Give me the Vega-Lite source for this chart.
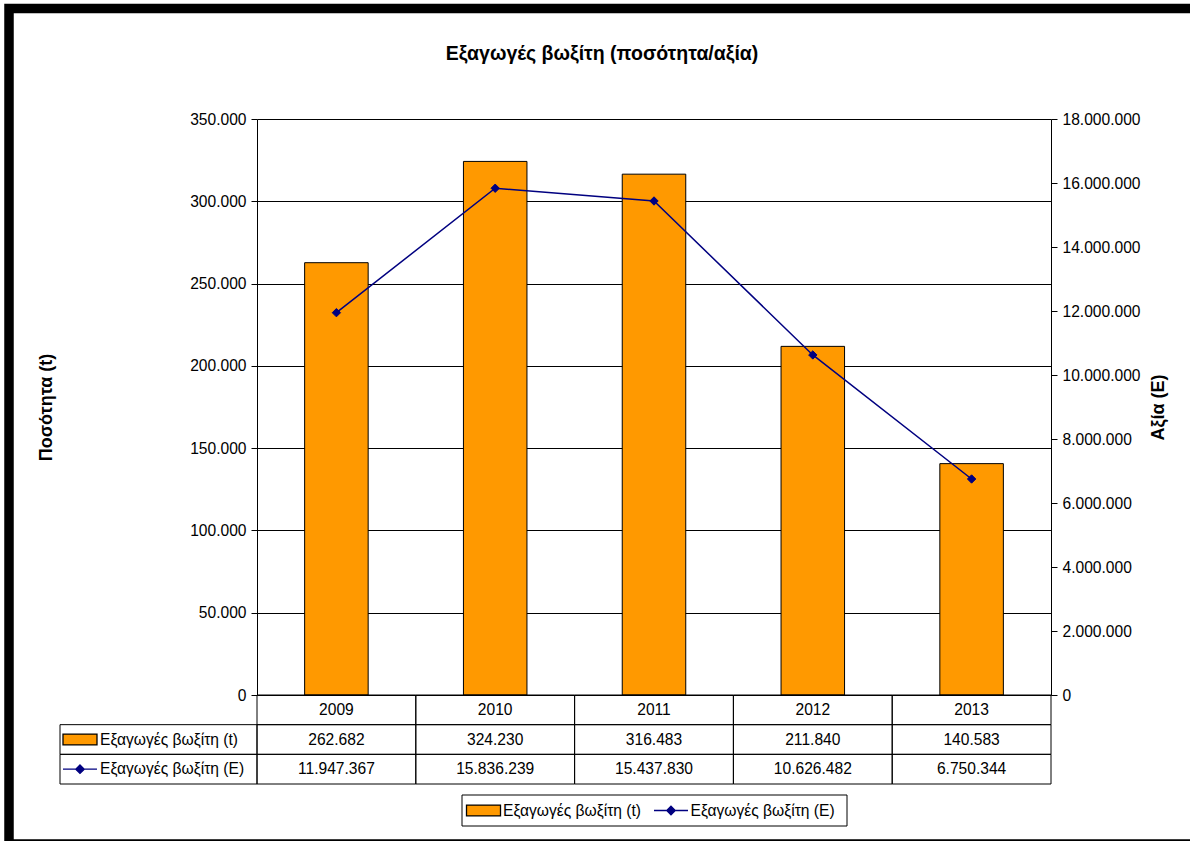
{
  "$schema": "https://vega.github.io/schema/vega-lite/v6.json",
  "width": 794,
  "height": 576,
  "autosize": {"type": "none"},
  "padding": {"left": 257, "top": 119, "right": 139, "bottom": 146},
  "background": "white",
  "title": {
    "text": "Εξαγωγές βωξίτη (ποσότητα/αξία)",
    "font": "Liberation Sans",
    "fontSize": 19.5,
    "fontWeight": "bold",
    "color": "#000",
    "anchor": "middle",
    "frame": "bounds",
    "offset": -61
  },
  "config": {
    "font": "Liberation Sans",
    "locale": {"number": {"decimal": ",", "thousands": ".", "grouping": [3], "currency": ["", " €"]}},
    "view": {"stroke": null},
    "axis": {
      "labelFont": "Liberation Sans",
      "labelFontSize": 15.6,
      "labelColor": "#000",
      "titleFont": "Liberation Sans",
      "titleFontSize": 18,
      "titleFontWeight": "bold",
      "titleColor": "#000",
      "domainColor": "#000",
      "tickColor": "#000",
      "gridColor": "#000",
      "gridOpacity": 1,
      "tickSize": 6,
      "labelPadding": 5
    },
    "text": {"font": "Liberation Sans", "fontSize": 15.6, "color": "#000"}
  },
  "datasets": {
    "exports": [
      {"year": "2009", "qty": 262682, "val": 11947367},
      {"year": "2010", "qty": 324230, "val": 15836239},
      {"year": "2011", "qty": 316483, "val": 15437830},
      {"year": "2012", "qty": 211840, "val": 10626482},
      {"year": "2013", "qty": 140583, "val": 6750344}
    ],
    "labels": [
      {"row": "qty", "label": "Εξαγωγές βωξίτη (t)"},
      {"row": "val", "label": "Εξαγωγές βωξίτη (Ε)"}
    ],
    "single": [{}]
  },
  "layer": [
    {
      "data": {"name": "single"},
      "mark": {"type": "rect", "filled": false, "stroke": "#000", "strokeWidth": 9.5},
      "encoding": {
        "x": {"datum": "frame", "type": "nominal", "axis": null, "scale": {"type": "band", "domain": ["frame"], "range": [-248, 938], "paddingInner": 0, "paddingOuter": 0}},
        "y": {"datum": "frame", "type": "nominal", "axis": null, "scale": {"type": "band", "domain": ["frame"], "range": [-110.5, 725], "paddingInner": 0, "paddingOuter": 0}}
      }
    },
    {
      "data": {"name": "exports"},
      "mark": {"type": "bar", "fill": "#FF9900", "stroke": "#000", "strokeWidth": 1},
      "encoding": {
        "x": {"field": "year", "type": "nominal", "axis": null, "scale": {"type": "band", "domain": ["2009", "2010", "2011", "2012", "2013"], "paddingInner": 0.6, "paddingOuter": 0.3}},
        "y": {
          "field": "qty", "type": "quantitative",
          "scale": {"domain": [0, 350000], "nice": false, "zero": true},
          "axis": {
            "orient": "left",
            "values": [0, 50000, 100000, 150000, 200000, 250000, 300000, 350000],
            "format": ",.0f",
            "title": "Ποσότητα (t)",
            "titlePadding": 134,
            "grid": true
          }
        }
      }
    },
    {
      "data": {"name": "exports"},
      "mark": {"type": "line", "stroke": "#000080", "strokeWidth": 1.5},
      "encoding": {
        "x": {"field": "year", "type": "nominal", "axis": null, "scale": {"type": "point", "domain": ["2009", "2010", "2011", "2012", "2013"], "padding": 0.5}},
        "y": {
          "field": "val", "type": "quantitative",
          "scale": {"domain": [0, 18000000], "nice": false, "zero": true},
          "axis": {
            "orient": "right",
            "values": [0, 2000000, 4000000, 6000000, 8000000, 10000000, 12000000, 14000000, 16000000, 18000000],
            "format": ",.0f",
            "title": "Αξία (Ε)",
            "titleAngle": 270,
            "titlePadding": 27,
            "grid": false
          }
        }
      }
    },
    {
      "data": {"name": "exports"},
      "mark": {"type": "point", "shape": "diamond", "filled": true, "fill": "#000080", "stroke": "#000080", "strokeWidth": 1, "size": 70, "opacity": 1},
      "encoding": {
        "x": {"field": "year", "type": "nominal", "axis": null, "scale": {"type": "point", "domain": ["2009", "2010", "2011", "2012", "2013"], "padding": 0.5}},
        "y": {"field": "val", "type": "quantitative", "axis": null, "scale": {"domain": [0, 18000000], "nice": false, "zero": true}}
      }
    },
    {
      "data": {"name": "exports"},
      "transform": [{"fold": ["year", "qty", "val"], "as": ["row", "v"]}],
      "mark": {"type": "rect", "filled": false, "stroke": "#000", "strokeWidth": 1},
      "encoding": {
        "x": {"field": "year", "type": "nominal", "axis": null, "scale": {"type": "band", "domain": ["2009", "2010", "2011", "2012", "2013"], "paddingInner": 0, "paddingOuter": 0}},
        "y": {"field": "row", "type": "nominal", "axis": null, "scale": {"type": "band", "domain": ["year", "qty", "val"], "range": [576, 665], "paddingInner": 0, "paddingOuter": 0}}
      }
    },
    {
      "data": {"name": "exports"},
      "mark": {"type": "text", "align": "center", "baseline": "middle"},
      "encoding": {
        "x": {"field": "year", "type": "nominal", "axis": null, "scale": {"type": "band", "domain": ["2009", "2010", "2011", "2012", "2013"], "paddingInner": 0, "paddingOuter": 0}},
        "y": {"datum": "year", "type": "nominal", "axis": null, "scale": {"type": "band", "domain": ["year", "qty", "val"], "range": [576, 665], "paddingInner": 0, "paddingOuter": 0}},
        "text": {"field": "year", "type": "nominal"}
      }
    },
    {
      "data": {"name": "exports"},
      "transform": [{"fold": ["qty", "val"], "as": ["row", "v"]}],
      "mark": {"type": "text", "align": "center", "baseline": "middle"},
      "encoding": {
        "x": {"field": "year", "type": "nominal", "axis": null, "scale": {"type": "band", "domain": ["2009", "2010", "2011", "2012", "2013"], "paddingInner": 0, "paddingOuter": 0}},
        "y": {"field": "row", "type": "nominal", "axis": null, "scale": {"type": "band", "domain": ["year", "qty", "val"], "range": [576, 665], "paddingInner": 0, "paddingOuter": 0}},
        "text": {"field": "v", "type": "quantitative", "format": ",.0f"}
      }
    },
    {
      "data": {"name": "labels"},
      "mark": {"type": "rect", "filled": false, "stroke": "#000", "strokeWidth": 1},
      "encoding": {
        "x": {"datum": "label", "type": "nominal", "axis": null, "scale": {"type": "band", "domain": ["label"], "range": [-197, 0], "paddingInner": 0, "paddingOuter": 0}},
        "y": {"field": "row", "type": "nominal", "axis": null, "scale": {"type": "band", "domain": ["year", "qty", "val"], "range": [576, 665], "paddingInner": 0, "paddingOuter": 0}}
      }
    },
    {
      "data": {"name": "labels"},
      "mark": {"type": "text", "align": "left", "baseline": "middle"},
      "encoding": {
        "x": {"datum": "label", "type": "nominal", "axis": null, "bandPosition": 0.203, "scale": {"type": "band", "domain": ["label"], "range": [-197, 0], "paddingInner": 0, "paddingOuter": 0}},
        "y": {"field": "row", "type": "nominal", "axis": null, "scale": {"type": "band", "domain": ["year", "qty", "val"], "range": [576, 665], "paddingInner": 0, "paddingOuter": 0}},
        "text": {"field": "label", "type": "nominal"}
      }
    },
    {
      "data": {"name": "labels"},
      "mark": {"type": "point", "filled": true, "opacity": 1, "strokeWidth": 1.3, "size": 1156},
      "encoding": {
        "x": {"datum": "label", "type": "nominal", "axis": null, "bandPosition": 0.1015, "scale": {"type": "band", "domain": ["label"], "range": [-197, 0], "paddingInner": 0, "paddingOuter": 0}},
        "y": {"field": "row", "type": "nominal", "axis": null, "scale": {"type": "band", "domain": ["year", "qty", "val"], "range": [576, 665], "paddingInner": 0, "paddingOuter": 0}},
        "shape": {"field": "row", "type": "nominal", "legend": null, "scale": {"domain": ["qty", "val"], "range": ["M-1,-0.32H1V0.32H-1Z", "M-1,0H1M0,-0.25L0.25,0L0,0.25L-0.25,0Z"]}},
        "fill": {"field": "row", "type": "nominal", "legend": null, "scale": {"domain": ["qty", "val"], "range": ["#FF9900", "#000080"]}},
        "stroke": {"field": "row", "type": "nominal", "legend": null, "scale": {"domain": ["qty", "val"], "range": ["#000000", "#000080"]}}
      }
    },
    {
      "data": {"name": "single"},
      "mark": {"type": "rect", "fill": "white", "stroke": "#000", "strokeWidth": 1},
      "encoding": {
        "x": {"datum": "lg", "type": "nominal", "axis": null, "scale": {"type": "band", "domain": ["lg"], "range": [205, 590], "paddingInner": 0, "paddingOuter": 0}},
        "y": {"datum": "lg", "type": "nominal", "axis": null, "scale": {"type": "band", "domain": ["lg"], "range": [676, 707], "paddingInner": 0, "paddingOuter": 0}}
      }
    },
    {
      "data": {"name": "labels"},
      "mark": {"type": "point", "filled": true, "opacity": 1, "strokeWidth": 1.3, "size": 1156},
      "encoding": {
        "x": {"field": "row", "type": "nominal", "axis": null, "bandPosition": 0.088, "scale": {"type": "band", "domain": ["qty", "val"], "range": [205, 590], "paddingInner": 0, "paddingOuter": 0.0267}},
        "y": {"datum": "lg", "type": "nominal", "axis": null, "scale": {"type": "band", "domain": ["lg"], "range": [676, 707], "paddingInner": 0, "paddingOuter": 0}},
        "shape": {"field": "row", "type": "nominal", "legend": null, "scale": {"domain": ["qty", "val"], "range": ["M-1,-0.32H1V0.32H-1Z", "M-1,0H1M0,-0.25L0.25,0L0,0.25L-0.25,0Z"]}},
        "fill": {"field": "row", "type": "nominal", "legend": null, "scale": {"domain": ["qty", "val"], "range": ["#FF9900", "#000080"]}},
        "stroke": {"field": "row", "type": "nominal", "legend": null, "scale": {"domain": ["qty", "val"], "range": ["#000000", "#000080"]}}
      }
    },
    {
      "data": {"name": "labels"},
      "mark": {"type": "text", "align": "left", "baseline": "middle"},
      "encoding": {
        "x": {"field": "row", "type": "nominal", "axis": null, "bandPosition": 0.192, "scale": {"type": "band", "domain": ["qty", "val"], "range": [205, 590], "paddingInner": 0, "paddingOuter": 0.0267}},
        "y": {"datum": "lg", "type": "nominal", "axis": null, "scale": {"type": "band", "domain": ["lg"], "range": [676, 707], "paddingInner": 0, "paddingOuter": 0}},
        "text": {"field": "label", "type": "nominal"}
      }
    }
  ],
  "resolve": {"scale": {"x": "independent", "y": "independent"}}
}
